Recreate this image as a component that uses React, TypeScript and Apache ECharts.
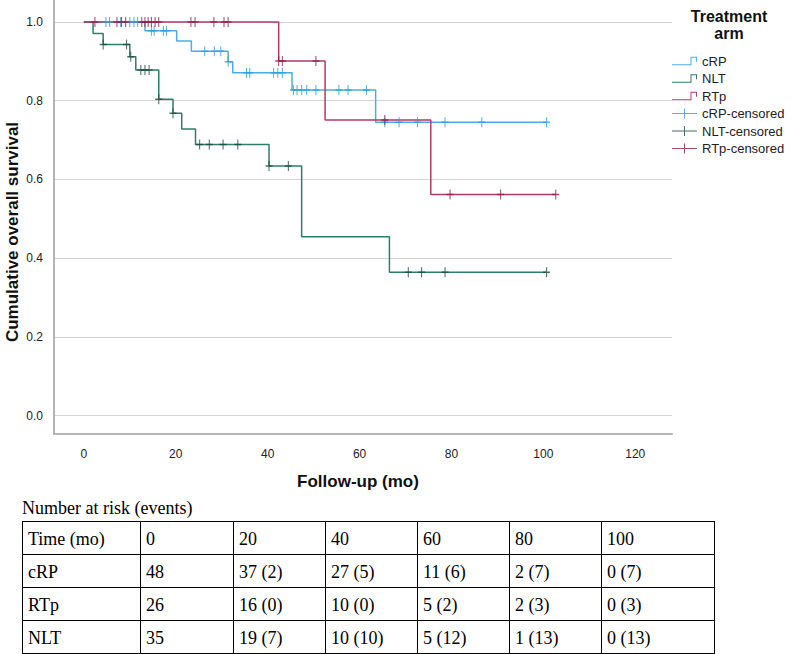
import React, { useEffect, useRef } from "react";
import * as echarts from "echarts";

// ---------- data ----------
const xTicks = [0, 20, 40, 60, 80, 100, 120];
const yTicks = [0, 0.2, 0.4, 0.6, 0.8, 1.0];

const cRPTimes = [0, 13.3, 20.2, 23.4, 31.4, 32.4, 45.3, 63.5, 100.7];
const cRPSurv = [1.0, 0.978, 0.952, 0.926, 0.899, 0.871, 0.827, 0.745, 0.745];
const cRPCensor = [4.8, 5.6, 8.0, 10.0, 10.9, 11.7, 14.7, 15.3, 17.3, 18.0, 26.3, 28.4, 29.8, 31.4, 35.4, 36.1, 41.3, 42.2, 43.2, 45.6, 46.4, 47.4, 48.5, 50.5, 55.5, 57.5, 61.5, 65.5, 68.6, 72.6, 78.6, 86.6, 100.7];

const nltTimes = [0, 2.0, 4.2, 10.0, 11.3, 16.3, 19.4, 21.3, 24.3, 40.3, 47.4, 66.5, 100.7];
const nltSurv = [1.0, 0.971, 0.943, 0.912, 0.878, 0.804, 0.768, 0.728, 0.689, 0.634, 0.454, 0.364, 0.364];
const nltCensor = [4.2, 9.3, 10.2, 12.4, 13.3, 14.2, 16.3, 19.4, 25.2, 27.3, 30.3, 33.5, 40.3, 44.5, 70.6, 73.5, 78.6, 100.7];

const rtpTimes = [0, 42.4, 52.5, 75.5, 102.7];
const rtpSurv = [1.0, 0.901, 0.751, 0.562, 0.562];
const rtpCensor = [2.4, 7.2, 8.2, 9.1, 12.6, 13.3, 14.0, 14.7, 15.5, 16.3, 23.3, 24.2, 28.3, 30.5, 31.4, 42.4, 43.2, 50.5, 65.5, 79.7, 90.7, 102.7];

const riskCaption = "Number at risk (events)";
const riskHeader = ["Time (mo)", "0", "20", "40", "60", "80", "100"];
const riskCRP = ["cRP", "48", "37 (2)", "27 (5)", "11 (6)", "2 (7)", "0 (7)"];
const riskRTp = ["RTp", "26", "16 (0)", "10 (0)", "5 (2)", "2 (3)", "0 (3)"];
const riskNLT = ["NLT", "35", "19 (7)", "10 (10)", "5 (12)", "1 (13)", "0 (13)"];

// ---------- styling ----------
const C_CRP = "#4aaee6";
const C_NLT = "#2f7d6b";
const C_RTP = "#b23a6b";
const C_CRP_C = "#2f9ddc";
const C_NLT_C = "#1f4a42";
const C_RTP_C = "#8c1f4a";

const SANS = "'Liberation Sans', Arial, sans-serif";
const NARROW = "'Liberation Sans Narrow', 'Liberation Sans', Arial, sans-serif";
const SERIF = "'Liberation Serif', 'Times New Roman', serif";

const PLUS = "path://M4.25,0 H5.75 V4.25 H10 V5.75 H5.75 V10 H4.25 V5.75 H0 V4.25 H4.25 Z";
const STEP_ICON = "path://M0,8.5 H18.5 V1 H25 V6 H24 V2 H19.5 V9.5 H0 Z";
const PLUS_ICON = "path://M0,4.5 H25 V5.5 H0 Z M12,0 H13 V10 H12 Z";

function survAt(times: number[], surv: number[], t: number) {
  let s = surv[0];
  for (let i = 0; i < times.length; i++) if (times[i] <= t + 1e-9) s = surv[i];
  return s;
}

function lineSeries(name: string, times: number[], surv: number[], color: string) {
  return {
    type: "line",
    name,
    data: times.map((t, i) => [t, surv[i]]),
    step: "end",
    symbol: "none",
    lineStyle: { color, width: 1.5 },
    itemStyle: { color },
    z: 2,
  };
}

function censorSeries(name: string, times: number[], surv: number[], cens: number[], color: string) {
  return {
    type: "scatter",
    name,
    data: cens.map((t) => [t, survAt(times, surv, t)]),
    symbol: PLUS,
    symbolSize: [7, 10],
    itemStyle: { color },
    z: 3,
  };
}

function buildTable() {
  const rows = [riskHeader, riskCRP, riskRTp, riskNLT];
  const colEdges = [22, 140, 233, 325, 417, 509, 601, 714];
  const rowEdges = [521, 554, 587, 620, 653];
  const els: any[] = [];
  els.push({
    type: "text",
    x: colEdges[0],
    y: 508,
    style: { text: riskCaption, font: `18px ${SERIF}`, fill: "#000", verticalAlign: "middle" },
  });
  rowEdges.forEach((y) => {
    els.push({
      type: "line",
      shape: { x1: colEdges[0], y1: y + 0.5, x2: colEdges[colEdges.length - 1], y2: y + 0.5 },
      style: { stroke: "#000", lineWidth: 1 },
    });
  });
  colEdges.forEach((x) => {
    els.push({
      type: "line",
      shape: { x1: x + 0.5, y1: rowEdges[0], x2: x + 0.5, y2: rowEdges[rowEdges.length - 1] + 1 },
      style: { stroke: "#000", lineWidth: 1 },
    });
  });
  rows.forEach((row, r) => {
    row.forEach((cell, c) => {
      els.push({
        type: "text",
        x: colEdges[c] + 6,
        y: (rowEdges[r] + rowEdges[r + 1]) / 2 + 1,
        style: { text: cell, font: `18px ${SERIF}`, fill: "#000", verticalAlign: "middle" },
      });
    });
  });
  return els;
}

export default function App() {
  const ref = useRef<HTMLDivElement>(null);
  useEffect(() => {
    if (!ref.current) return;
    const chart = echarts.init(ref.current, null, { renderer: "svg" });
    const option: any = {
      animation: false,
      backgroundColor: "#ffffff",
      textStyle: { fontFamily: SANS },
      grid: { left: 54, top: 0, width: 618, height: 434 },
      xAxis: {
        type: "value",
        min: -6.5,
        max: 128,
        axisLine: { show: true, onZero: false, lineStyle: { color: "#b4b4b4", width: 2 } },
        axisTick: { show: false, customValues: xTicks },
        axisLabel: { customValues: xTicks, color: "#222", fontSize: 12, margin: 14, fontFamily: NARROW },
        splitLine: { show: false },
      },
      yAxis: {
        type: "value",
        min: -0.047,
        max: 1.056,
        axisLine: { show: true, onZero: false, lineStyle: { color: "#b4b4b4", width: 2 } },
        axisTick: { show: false, customValues: yTicks },
        axisLabel: {
          customValues: yTicks,
          color: "#222",
          fontSize: 12,
          margin: 11,
          fontFamily: NARROW,
          formatter: (v: number) => v.toFixed(1),
        },
        splitLine: { show: true, lineStyle: { color: "#d4d4d4", width: 1 } },
      },
      legend: {
        orient: "vertical",
        left: 672,
        top: 54,
        padding: 0,
        itemWidth: 25,
        itemHeight: 10,
        itemGap: 3.5,
        selectedMode: false,
        itemStyle: { borderWidth: 0 },
        textStyle: { fontSize: 13, color: "#222", fontFamily: SANS, lineHeight: 14 },
        data: [
          { name: "cRP", icon: STEP_ICON },
          { name: "NLT", icon: STEP_ICON },
          { name: "RTp", icon: STEP_ICON },
          { name: "cRP-censored", icon: PLUS_ICON },
          { name: "NLT-censored", icon: PLUS_ICON },
          { name: "RTp-censored", icon: PLUS_ICON },
        ],
      },
      series: [
        lineSeries("cRP", cRPTimes, cRPSurv, C_CRP),
        lineSeries("NLT", nltTimes, nltSurv, C_NLT),
        lineSeries("RTp", rtpTimes, rtpSurv, C_RTP),
        censorSeries("cRP-censored", cRPTimes, cRPSurv, cRPCensor, C_CRP_C),
        censorSeries("NLT-censored", nltTimes, nltSurv, nltCensor, C_NLT_C),
        censorSeries("RTp-censored", rtpTimes, rtpSurv, rtpCensor, C_RTP_C),
      ],
      graphic: {
        elements: [
          {
            type: "text",
            x: 729,
            y: 8,
            style: {
              text: "Treatment\narm",
              font: `bold 16px ${SANS}`,
              fill: "#111",
              align: "center",
              verticalAlign: "top",
              lineHeight: 17,
            },
          },
          {
            type: "text",
            x: 12,
            y: 232,
            rotation: Math.PI / 2,
            style: {
              text: "Cumulative overall survival",
              font: `bold 17px ${SANS}`,
              fill: "#111",
              align: "center",
              verticalAlign: "middle",
            },
          },
          {
            type: "text",
            x: 358,
            y: 481,
            style: {
              text: "Follow-up (mo)",
              font: `bold 17px ${SANS}`,
              fill: "#111",
              align: "center",
              verticalAlign: "middle",
            },
          },
          ...buildTable(),
        ],
      },
    };
    chart.setOption(option);
    return () => chart.dispose();
  }, []);
  return (
    <div
      ref={ref}
      style={{ position: "fixed", left: 0, top: 0, width: 791, height: 654, background: "#fff" }}
    />
  );
}
